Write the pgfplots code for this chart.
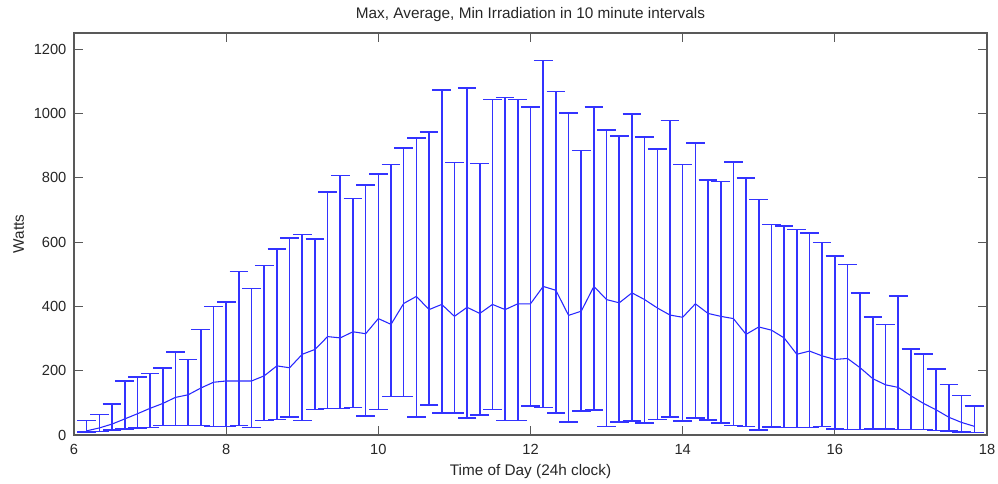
\documentclass[border=0pt]{standalone}
\usepackage{pgfplots}
\usepackage{pgfplotstable}
\pgfplotsset{compat=1.18}
\usepackage{fontspec}
\setmainfont{Liberation Sans}
\definecolor{mblue}{RGB}{0,0,255}

\pgfplotstableread{
t max avg min
6.1667 45 13 10
6.3333 64 22 11
6.5 97 34 15
6.6667 168 50 19
6.8333 180 66 21
7 191 83 23
7.1667 209 98 29
7.3333 258 117 29
7.5 235 125 29
7.6667 328 146 29
7.8333 400 164 27
8 414 168 27
8.1667 509 168 29
8.3333 456 168 23
8.5 527 184 45
8.6667 579 215 48
8.8333 613 209 56
9 624 251 45
9.1667 609 266 79
9.3333 755 306 82
9.5 807 302 83
9.6667 736 321 85
9.8333 777 315 60
10 811 362 79
10.1667 841 344 120
10.3333 893 409 120
10.5 923 431 56
10.6667 942 390 94
10.8333 1072 406 68
11 847 369 68
11.1667 1079 397 53
11.3333 844 378 63
11.5 1043 406 79
11.6667 1050 390 45
11.8333 1043 408 45
12 1020 408 91
12.1667 1165 462 86
12.3333 1068 450 68
12.5 1002 372 41
12.6667 885 385 75
12.8333 1020 462 78
13 949 421 26
13.1667 930 411 41
13.3333 998 442 44
13.5 927 421 38
13.6667 890 395 48
13.8333 978 373 56
14 841 366 44
14.1667 908 408 52
14.3333 792 378 46
14.5 788 369 37
14.6667 848 362 29
14.8333 800 313 26
15 732 336 15
15.1667 655 326 24
15.3333 650 302 23
15.5 639 251 23
15.6667 628 261 23
15.8333 599 246 26
16 557 235 19
16.1667 530 238 17
16.3333 441 209 17
16.5 367 175 19
16.6667 344 156 19
16.8333 433 148 17
17 268 122 17
17.1667 251 98 17
17.3333 205 78 14
17.5 157 55 12
17.6667 123 39 10
17.8333 90 27 8
}\data

\begin{document}
\begin{tikzpicture}
\begin{axis}[
  at={(0,0)}, anchor=south west,
  scale only axis, width=684.75pt, height=301.5pt,
  xmin=6, xmax=18, ymin=0, ymax=1250,
  xtick={6,8,10,12,14,16,18},
  ytick={0,200,400,600,800,1000,1200},
  tick align=inside, xtick pos=both, ytick pos=both,
  xticklabel pos=lower, yticklabel pos=left,
  major tick length=6.5pt,
  axis line style={black!65, line width=0.8pt},
  every tick/.style={black!65, line width=0.8pt},
  /pgf/number format/assume math mode=true,
  /pgf/number format/1000 sep={},
  font=\fontsize{11}{13}\selectfont,
  ticklabel style={font=\fontsize{11}{13}\selectfont, text=black!85},
  xticklabel style={anchor=base, inner sep=0pt, yshift=-14.25pt},
  yticklabel style={anchor=east, inner sep=0pt, xshift=-5.5pt},
  every axis title shift=0pt,
  title={Max, Average, Min Irradiation in 10 minute intervals},
  title style={at={([yshift=10.5pt]axis description cs:0.5,1)}, anchor=base, inner sep=0pt, font=\fontsize{11.5}{13}\selectfont, text=black!85},
  xlabel={Time of Day (24h clock)},
  xlabel style={at={([yshift=-30pt]axis description cs:0.5,0)}, anchor=base, inner sep=0pt, font=\fontsize{11.5}{13}\selectfont, text=black!85},
  ylabel={Watts},
  ylabel style={at={([xshift=-37.5pt]axis description cs:0,0.5)}, anchor=base, inner sep=0pt, font=\fontsize{11.5}{13}\selectfont, text=black!85},
  clip=false,
]
\addplot[color=mblue!85!white, line width=0.8pt, mark=none,
  error bars/.cd, y dir=both, y explicit,
  error bar style={mblue!80!white, line width=1.2pt},
  error mark=|,
  error mark options={mblue!80!white, draw=mblue!80!white, mark size=7pt, line width=1.2pt}]
  table[x=t, y=avg,
    y error plus expr=\thisrow{max}-\thisrow{avg},
    y error minus expr=\thisrow{avg}-\thisrow{min}] {\data};
\end{axis}
\pgfresetboundingbox
\path[use as bounding box] (-55.5pt,-36pt) rectangle (693pt,326.25pt);
\end{tikzpicture}
\end{document}
